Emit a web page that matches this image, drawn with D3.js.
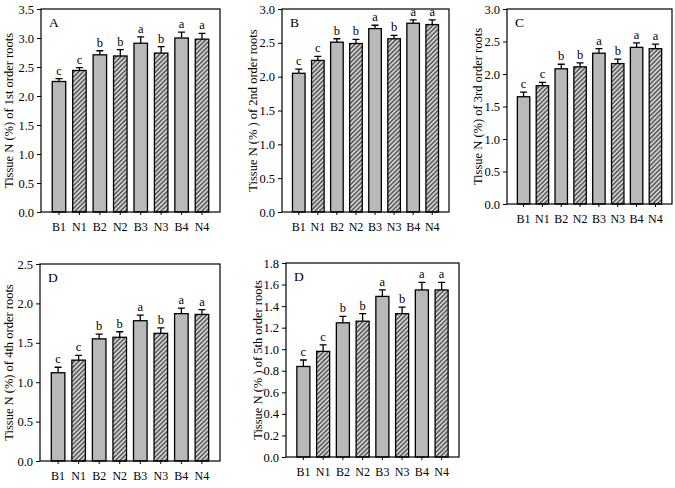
<!DOCTYPE html>
<html>
<head>
<meta charset="utf-8">
<script src="https://cdn.jsdelivr.net/npm/d3@7"></script>
<style>
  body { margin: 0; background: #fff; }
  svg text { font-family: "Liberation Serif", "Times New Roman", serif; fill: #000; }
</style>
</head>
<body>
<div id="chart"></div>
<script>
const groups = ["B1", "N1", "B2", "N2", "B3", "N3", "B4", "N4"];
const sigLetters = ["c", "c", "b", "b", "a", "b", "a", "a"];

// Tissue N (%) per root order, mean and upper error
const order1 = [2.25, 2.44, 2.71, 2.69, 2.91, 2.74, 3.00, 2.98];
const order1Err = [0.05, 0.05, 0.07, 0.11, 0.11, 0.11, 0.10, 0.10];
const order2 = [2.05, 2.24, 2.51, 2.49, 2.71, 2.56, 2.79, 2.77];
const order2Err = [0.06, 0.06, 0.05, 0.06, 0.05, 0.05, 0.05, 0.07];
const order3 = [1.65, 1.82, 2.08, 2.11, 2.32, 2.16, 2.41, 2.39];
const order3Err = [0.07, 0.05, 0.07, 0.06, 0.07, 0.07, 0.07, 0.07];
const order4 = [1.12, 1.28, 1.55, 1.57, 1.78, 1.62, 1.87, 1.86];
const order4Err = [0.07, 0.06, 0.06, 0.07, 0.07, 0.07, 0.07, 0.06];
const order5 = [0.84, 0.98, 1.245, 1.26, 1.49, 1.33, 1.55, 1.55];
const order5Err = [0.06, 0.06, 0.06, 0.07, 0.06, 0.06, 0.07, 0.07];

const yMax = [3.5, 3.0, 3.0, 2.5, 1.8];
const yStep = [0.5, 0.5, 0.5, 0.5, 0.2];
const panelLetters = ["A", "B", "C", "D", "D"];
const yTitles = [
  "Tissue N (%) of 1st order roots",
  "Tissue N (% ) of 2nd order roots",
  "Tissue N (%) of 3rd order roots",
  "Tissue N (%) of 4th order roots",
  "Tissue N (% ) of 5th order roots"
];

const width = 675;
const height = 488;

// frame boxes of the five panels
const frames = [
  { x0: 41, x1: 220, y0: 9, y1: 212, titleX: 9 },
  { x0: 282, x1: 449, y0: 9, y1: 212, titleX: 253 },
  { x0: 507, x1: 672, y0: 9, y1: 204, titleX: 478 },
  { x0: 40, x1: 220, y0: 264, y1: 461, titleX: 9 },
  { x0: 286, x1: 459, y0: 263, y1: 457, titleX: 258 }
];

const panels = [
  [order1, order1Err],
  [order2, order2Err],
  [order3, order3Err],
  [order4, order4Err],
  [order5, order5Err]
];

const svg = d3.select("#chart")
  .append("svg")
  .attr("width", width)
  .attr("height", height);

// hatch pattern for N bars
const defs = svg.append("defs");
const pat = defs.append("pattern")
  .attr("id", "hatch")
  .attr("patternUnits", "userSpaceOnUse")
  .attr("width", 3.2)
  .attr("height", 3.2)
  .attr("patternTransform", "rotate(45)");
pat.append("rect").attr("width", 3.2).attr("height", 3.2).attr("fill", "#d2d2d2");
pat.append("line")
  .attr("x1", 0.8).attr("y1", 0).attr("x2", 0.8).attr("y2", 3.2)
  .attr("stroke", "#3a3a3a").attr("stroke-width", 1.2);

panels.forEach(([vals, errs], p) => {
  const f = frames[p];
  const g = svg.append("g");

  const x = d3.scaleBand()
    .domain(groups)
    .range([f.x0, f.x1])
    .paddingInner(0.34)
    .paddingOuter(0.55);

  const y = d3.scaleLinear()
    .domain([0, yMax[p]])
    .range([f.y1, f.y0]);

  const ticks = d3.range(0, yMax[p] + 1e-9, yStep[p]);

  // y axis
  const yAxis = g.append("g")
    .attr("transform", `translate(${f.x0},0)`)
    .call(d3.axisLeft(y).tickValues(ticks).tickFormat(d3.format(".1f")).tickSize(4).tickPadding(3));
  yAxis.select(".domain").remove();
  yAxis.selectAll("line").attr("stroke", "#000");
  yAxis.selectAll("text").attr("font-size", 12.5).attr("font-family", "Liberation Serif");

  // x axis
  const xAxis = g.append("g")
    .attr("transform", `translate(0,${f.y1})`)
    .call(d3.axisBottom(x).tickSize(3).tickPadding(7));
  xAxis.select(".domain").remove();
  xAxis.selectAll("line").attr("stroke", "#000");
  xAxis.selectAll("text").attr("font-size", 12).attr("font-family", "Liberation Serif");

  // bars
  g.selectAll(".bar")
    .data(groups)
    .enter()
    .append("rect")
    .attr("x", (d) => x(d))
    .attr("y", (d, i) => y(vals[i]))
    .attr("width", x.bandwidth())
    .attr("height", (d, i) => y(0) - y(vals[i]))
    .attr("fill", (d) => d[0] === "N" ? "url(#hatch)" : "#b9b9b9")
    .attr("stroke", "#000")
    .attr("stroke-width", 1.3);

  // error bars
  const cx = (d) => x(d) + x.bandwidth() / 2;
  g.selectAll(".err")
    .data(groups)
    .enter()
    .append("path")
    .attr("d", (d, i) => {
      const top = y(vals[i] + errs[i]);
      return `M${cx(d)},${y(vals[i])}V${top}M${cx(d) - 3.5},${top}H${cx(d) + 3.5}`;
    })
    .attr("stroke", "#000")
    .attr("stroke-width", 1.3)
    .attr("fill", "none");

  // significance letters
  g.selectAll(".sig")
    .data(groups)
    .enter()
    .append("text")
    .attr("x", cx)
    .attr("y", (d, i) => y(vals[i] + errs[i]) - 4)
    .attr("text-anchor", "middle")
    .attr("font-size", 12.5)
    .text((d, i) => sigLetters[i]);

  // frame
  g.append("rect")
    .attr("x", f.x0)
    .attr("y", f.y0)
    .attr("width", f.x1 - f.x0)
    .attr("height", f.y1 - f.y0)
    .attr("fill", "none")
    .attr("stroke", "#000")
    .attr("stroke-width", 1.2);

  // panel letter
  g.append("text")
    .attr("x", f.x0 + 8)
    .attr("y", f.y0 + 18)
    .attr("font-size", 13.5)
    .text(panelLetters[p]);

  // y title
  g.append("text")
    .attr("transform", `translate(${f.titleX},${(f.y0 + f.y1) / 2}) rotate(-90)`)
    .attr("text-anchor", "middle")
    .attr("dominant-baseline", "central")
    .attr("font-size", 12.5)
    .text(yTitles[p]);
});
</script>
</body>
</html>
